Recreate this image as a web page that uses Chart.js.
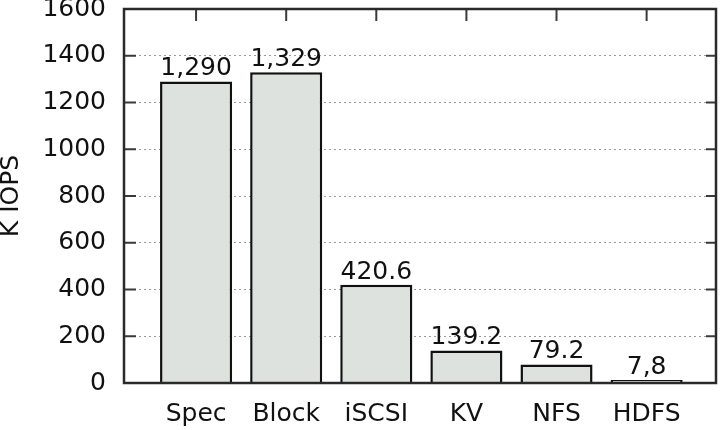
<!DOCTYPE html>
<html>
<head>
<meta charset="utf-8">
<script src="https://cdn.jsdelivr.net/npm/chart.js@4/dist/chart.umd.min.js"></script>
<style>
  html, body { margin: 0; padding: 0; background: #fff; }
  canvas { display: block; }
</style>
</head>
<body>
<canvas id="c" width="720" height="430"></canvas>
<script>
const categories = ["Spec", "Block", "iSCSI", "KV", "NFS", "HDFS"];
const kiops = [1290, 1329, 420.6, 139.2, 79.2, 7.8];
const valueLabels = ["1,290", "1,329", "420.6", "139.2", "79.2", "7,8"];
const yTicks = [0, 200, 400, 600, 800, 1000, 1200, 1400, 1600];
const yTitle = "K IOPS";

const FONT = "'DejaVu Sans', sans-serif";

const framePlugin = {
  id: 'frame',
  afterDatasetsDraw(chart) {
    const ctx = chart.ctx;
    const a = chart.chartArea;
    const xs = chart.scales.x, ys = chart.scales.y;
    ctx.save();
    // inward tick marks
    ctx.strokeStyle = '#3a3a3a';
    ctx.lineWidth = 2;
    ctx.beginPath();
    ys.ticks.forEach(t => {
      const y = ys.getPixelForValue(t.value);
      ctx.moveTo(a.left, y); ctx.lineTo(a.left + 12, y);
      ctx.moveTo(a.right, y); ctx.lineTo(a.right - 10, y);
    });
    xs.ticks.forEach(t => {
      const x = xs.getPixelForValue(t.value);
      ctx.moveTo(x, a.top); ctx.lineTo(x, a.top + 12);
    });
    ctx.stroke();
    // frame
    ctx.strokeStyle = '#2a2a2a';
    ctx.lineWidth = 2.5;
    ctx.strokeRect(a.left, a.top, a.right - a.left, a.bottom - a.top);
    // value labels
    ctx.fillStyle = '#111';
    ctx.font = '25px ' + FONT;
    ctx.textAlign = 'center';
    ctx.textBaseline = 'alphabetic';
    const meta = chart.getDatasetMeta(0);
    meta.data.forEach((bar, i) => {
      ctx.fillText(valueLabels[i], bar.x, Math.min(bar.y, ys.getPixelForValue(kiops[i])) - 6);
    });
    ctx.restore();
  }
};

new Chart(document.getElementById('c'), {
  type: 'bar',
  data: {
    datasets: [{
      data: kiops.map((v, i) => ({ x: i, y: v })),
      backgroundColor: '#dde2df',
      borderColor: '#111',
      borderWidth: 2.5,
      borderSkipped: 'bottom',
      minBarLength: 3,
      barPercentage: 0.8,
      categoryPercentage: 1.0
    }]
  },
  options: {
    responsive: false,
    animation: false,
    layout: { padding: { left: 0, right: 4, top: 9, bottom: 0 } },
    plugins: { legend: { display: false }, tooltip: { enabled: false } },
    scales: {
      x: {
        type: 'linear',
        offset: false,
        bounds: 'data',
        min: -0.8,
        max: 5.77,
        grid: { display: false, drawTicks: false },
        border: { display: false },
        afterBuildTicks: s => { s.ticks = categories.map((c, i) => ({ value: i })); },
        afterFit: s => { s.height = 47; s.paddingLeft = 0; s.paddingRight = 0; },
        ticks: {
          autoSkip: false,
          maxRotation: 0,
          padding: 16,
          color: '#111',
          font: { family: FONT, size: 25 },
          callback: v => categories[v]
        }
      },
      y: {
        min: 0,
        max: 1600,
        afterBuildTicks: s => { s.ticks = yTicks.map(v => ({ value: v })); },
        afterFit: s => { s.width = 124; s.paddingTop = 0; s.paddingBottom = 0; },
        grid: { color: '#9a9a9a', lineWidth: 1, drawTicks: false },
        border: { display: false, dash: [2, 3] },
        ticks: {
          padding: 18,
          color: '#111',
          font: { family: FONT, size: 25 },
          callback: v => String(v)
        },
        title: {
          display: true,
          text: yTitle,
          color: '#111',
          font: { family: FONT, size: 25, lineHeight: 0.9 },
          padding: { top: 0, bottom: 0 }
        }
      }
    }
  },
  plugins: [framePlugin]
});
</script>
</body>
</html>
